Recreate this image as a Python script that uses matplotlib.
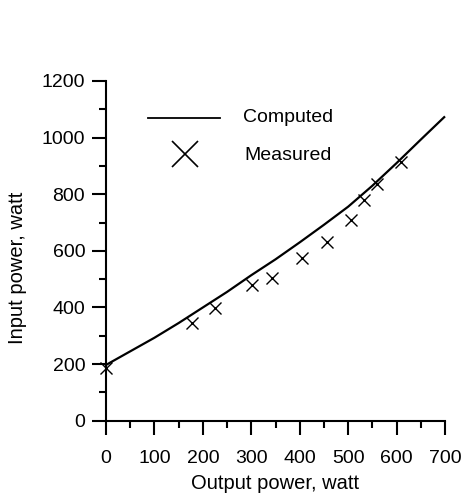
import matplotlib
matplotlib.use("Agg")
import matplotlib.pyplot as plt
from matplotlib.ticker import MultipleLocator

plt.rcParams['font.family'] = ['Liberation Sans', 'DejaVu Sans']

# Computed curve
comp_x = [0, 50, 100, 150, 200, 250, 300, 350, 400, 450, 500, 550, 600, 650, 700]
comp_y = [197, 245, 293, 345, 400, 455, 514, 570, 630, 692, 756, 830, 910, 993, 1075]

# Measured points
meas_x = [0, 178, 225, 301, 342, 405, 456, 506, 533, 559, 610]
meas_y = [185, 346, 399, 479, 505, 576, 630, 709, 780, 835, 915]

x_ticks = [0, 100, 200, 300, 400, 500, 600, 700]
y_ticks = [0, 200, 400, 600, 800, 1000, 1200]

fig = plt.figure(figsize=(4.65, 4.99), dpi=100)
ax = fig.add_axes([106/465, 1-420.7/499, (445-106)/465, (420.7-81)/499])

ax.plot(comp_x, comp_y, color='black', lw=1.6, clip_on=False, solid_capstyle='butt')
ax.plot(meas_x, meas_y, linestyle='none', marker='x', ms=9, mew=1.0, color='black', clip_on=False)

ax.set_xlim(0, 700)
ax.set_ylim(0, 1200)
ax.set_xticks(x_ticks)
ax.set_yticks(y_ticks)
ax.xaxis.set_minor_locator(MultipleLocator(50))
ax.yaxis.set_minor_locator(MultipleLocator(100))

for s in ['top', 'right']:
    ax.spines[s].set_visible(False)
for s in ['left', 'bottom']:
    ax.spines[s].set_linewidth(1.5)

ax.tick_params(axis='x', which='major', direction='out', length=10, width=1.5, pad=11, labelsize=14)
ax.tick_params(axis='x', which='minor', direction='out', length=5, width=1.5)
ax.tick_params(axis='y', which='major', direction='out', length=10, width=1.5, pad=5, labelsize=14)
ax.tick_params(axis='y', which='minor', direction='out', length=5, width=1.5)

ax.set_xlabel('Output power, watt', fontsize=14.5, labelpad=5)
ax.set_ylabel('Input power, watt', fontsize=14.5)
ax.yaxis.set_label_coords(-0.232, 0.45)

# Legend drawn manually in axes fraction
W = 445 - 106
H = 420.7 - 81
def fx(px):
    return (px - 106) / W
def fy(py):
    return (420.7 - py) / H

ax.plot([fx(148), fx(220)], [fy(117.5), fy(117.5)], transform=ax.transAxes,
        color='black', lw=1.3, clip_on=False)
ax.plot([fx(185)], [fy(154)], transform=ax.transAxes, marker='x', ms=19, mew=1.2,
        color='black', linestyle='none', clip_on=False)
ax.text(fx(243), fy(118), 'Computed', transform=ax.transAxes, fontsize=14,
        va='center', ha='left')
ax.text(fx(244), fy(155), 'Measured', transform=ax.transAxes, fontsize=14,
        va='center', ha='left')

fig.savefig('out.png', dpi=100)
